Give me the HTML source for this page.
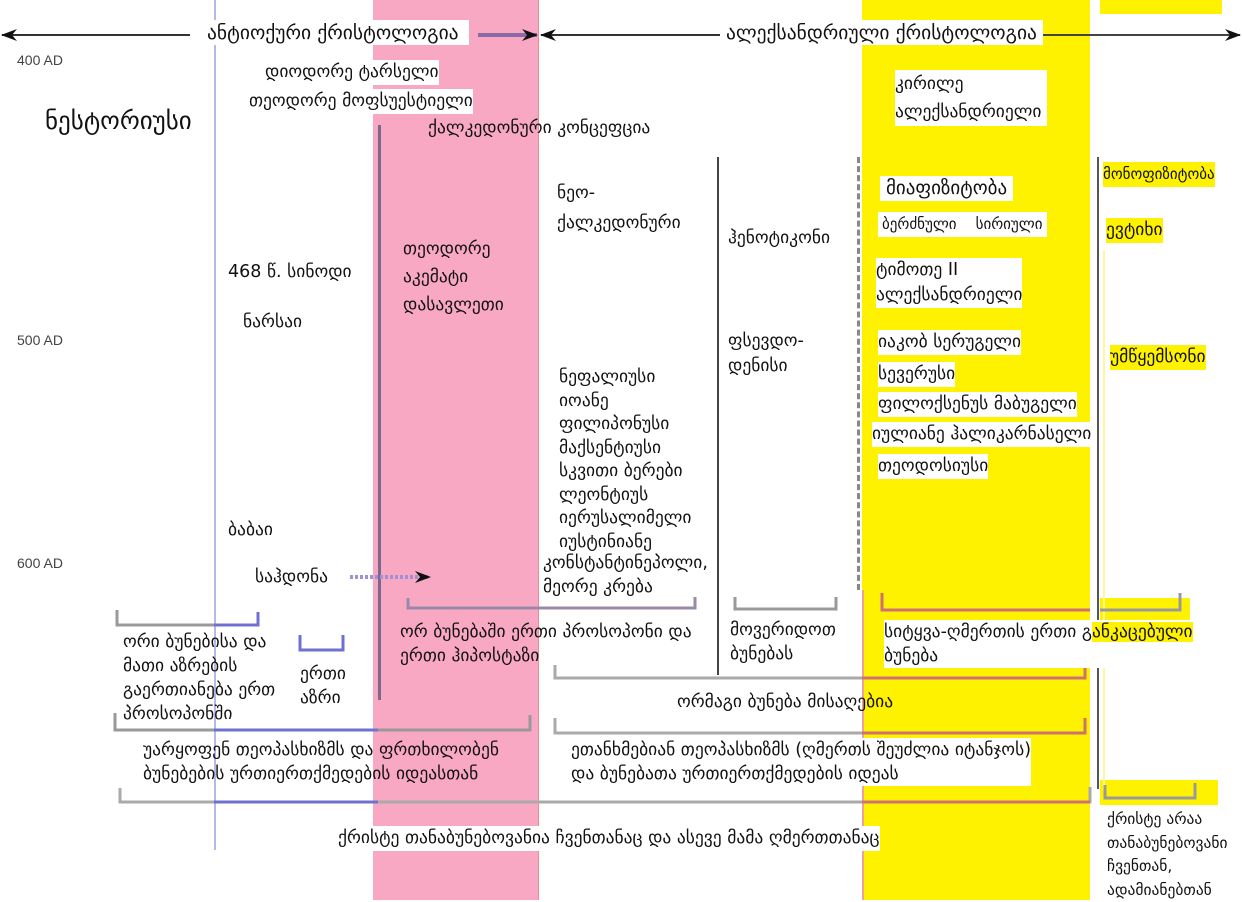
<!DOCTYPE html>
<html><head><meta charset="utf-8"><style>
body{margin:0;width:1242px;height:900px;position:relative;background:#fff;overflow:hidden;font-family:"DejaVu Sans","Liberation Sans",sans-serif;font-size:17.5px;color:#111}
.a{position:absolute}
.t{position:absolute;white-space:nowrap;line-height:25px}
.w{background:#fff}
.y{background:#fff200}
.ax{font-family:"Liberation Sans",sans-serif;font-size:14px;color:#444}
</style></head><body>
<!-- bands -->
<div class="a" style="left:373px;top:0;width:165px;height:900px;background:#f9a8c4"></div>
<div class="a" style="left:862px;top:0;width:228px;height:900px;background:#fff200"></div>
<div class="a" style="left:1100px;top:0;width:122px;height:14px;background:#fff200"></div>
<div class="a" style="left:1100px;top:598px;width:90px;height:30px;background:#fff200"></div>
<div class="a" style="left:1100px;top:780px;width:118px;height:25px;background:#fff200"></div>
<!-- vertical lines -->
<div class="a" style="left:214px;top:0;width:2px;height:850px;background:#b8b8e8"></div>
<div class="a" style="left:538px;top:0;width:1px;height:900px;background:#e89090"></div>
<div class="a" style="left:862px;top:590px;width:2px;height:310px;background:#f0a0a0"></div>
<div class="a" style="left:378px;top:125px;width:3px;height:575px;background:#7a6a8a"></div>
<div class="a" style="left:717px;top:157px;width:2px;height:518px;background:#444"></div>
<div class="a" style="left:857px;top:157px;width:0;height:433px;border-left:3px dashed #888"></div>
<div class="a" style="left:1097px;top:157px;width:2px;height:632px;background:#555"></div>
<div class="a" style="left:1103px;top:250px;width:2px;height:540px;background:#fff6a0"></div>
<svg class="a" style="left:0;top:0" width="1242" height="900">
<defs><marker id="m" markerUnits="userSpaceOnUse" markerWidth="16" markerHeight="12" refX="15" refY="6" orient="auto"><path d="M0,0 L16,6 L0,12 L5,6z" fill="#111"/></marker></defs>
<line x1="190" y1="35" x2="2" y2="35" stroke="#333" stroke-width="2" marker-end="url(#m)"/>
<line x1="478" y1="35" x2="537" y2="35" stroke="#8a6aa8" stroke-width="4" marker-end="url(#m)"/>
<line x1="720" y1="35" x2="541" y2="35" stroke="#333" stroke-width="2" marker-end="url(#m)"/>
<line x1="1040" y1="35" x2="1240" y2="35" stroke="#444" stroke-width="2" marker-end="url(#m)"/>
<line x1="350" y1="577" x2="430" y2="577" stroke="#a090d8" stroke-width="4" stroke-dasharray="3,2" marker-end="url(#m)"/>
<g fill="none" stroke-width="3">
<path d="M117 610 V625 H258 V612" stroke="#999"/>
<path d="M214 625 H258 V612" stroke="#7070d0"/>
<path d="M300 635 V650 H343 V635" stroke="#7070d0"/>
<path d="M408 598 V608 H695 V597" stroke="#9a8aaa"/>
<path d="M735 597 V609 H836 V597" stroke="#999"/>
<path d="M882 593 V610 H1090" stroke="#d07070"/>
<path d="M1100 610 H1180 V593" stroke="#999"/>
<path d="M555 665 V678 H1085 V662" stroke="#aaa"/>
<path d="M862 678 H1085 V662" stroke="#d07070"/>
<path d="M555 718 V733 H1085 V718" stroke="#aaa"/>
<path d="M862 733 H1085 V718" stroke="#d07070"/>
<path d="M115 713 V730 H530 V715" stroke="#999"/>
<path d="M214 730 H378" stroke="#7070d0"/>
<path d="M120 788 V802 H1090 V787" stroke="#aaa"/>
<path d="M214 802 H378" stroke="#7070d0"/>
<path d="M862 802 H1090" stroke="#d07070"/>
<path d="M1105 785 V798 H1195 V783" stroke="#999"/>
</g>
</svg>
<!-- axis -->
<div class="t ax" style="left:17px;top:48px">400 AD</div>
<div class="t ax" style="left:17px;top:328px">500 AD</div>
<div class="t ax" style="left:17px;top:551px">600 AD</div>
<!-- headings -->
<div class="t w" style="left:207px;top:20px;font-size:19.5px;padding-right:10px">ანტიოქური ქრისტოლოგია</div>
<div class="t w" style="left:726px;top:20px;font-size:19.5px;padding-right:6px">ალექსანდრიული ქრისტოლოგია</div>
<div class="t" style="left:45px;top:106px;font-size:25px;line-height:30px">ნესტორიუსი</div>
<div class="t w" style="left:265px;top:60px">დიოდორე ტარსელი</div>
<div class="t w" style="left:249px;top:89px">თეოდორე მოფსუესტიელი</div>
<div class="t" style="left:428px;top:116px">ქალკედონური კონცეფცია</div>
<div class="t" style="left:228px;top:260px">468 წ. სინოდი</div>
<div class="t" style="left:243px;top:310px">ნარსაი</div>
<div class="t" style="left:403px;top:235px;line-height:28px">თეოდორე<br>აკემატი<br>დასავლეთი</div>
<div class="t" style="left:557px;top:178px;line-height:30px">ნეო-<br>ქალკედონური</div>
<div class="t" style="left:728px;top:226px">ჰენოტიკონი</div>
<div class="t" style="left:728px;top:329px;line-height:25px">ფსევდო-<br>დენისი</div>
<div class="t" style="left:559px;top:366px;line-height:23.5px">ნეფალიუსი<br>იოანე<br>ფილიპონუსი<br>მაქსენტიუსი<br>სკვითი ბერები<br>ლეონტიუს<br>იერუსალიმელი<br>იუსტინიანე</div>
<div class="t" style="left:543px;top:551px;line-height:24px">კონსტანტინეპოლი,<br>მეორე კრება</div>
<div class="t" style="left:228px;top:518px">ბაბაი</div>
<div class="t" style="left:255px;top:565px">საჰდონა</div>
<!-- yellow region -->
<div class="t w" style="left:895px;top:70px;line-height:28px;padding-right:6px">კირილე<br>ალექსანდრიელი</div>
<div class="t w" style="left:880px;top:176px;font-size:19px;padding:0 6px">მიაფიზიტობა</div>
<div class="t w" style="left:878px;top:212px;font-size:15px;padding:0 4px">ბერძნული &nbsp;&nbsp; სირიული</div>
<div class="t w" style="left:876px;top:258px;line-height:25px">ტიმოთე II<br>ალექსანდრიელი</div>
<div class="t w" style="left:878px;top:330px">იაკობ სერუგელი</div>
<div class="t w" style="left:878px;top:362px">სევერუსი</div>
<div class="t w" style="left:878px;top:392px">ფილოქსენუს მაბუგელი</div>
<div class="t w" style="left:872px;top:422px">იულიანე ჰალიკარნასელი</div>
<div class="t w" style="left:878px;top:454px">თეოდოსიუსი</div>
<div class="t y" style="left:1103px;top:162px;font-size:15px">მონოფიზიტობა</div>
<div class="t y" style="left:1106px;top:218px">ევტიხი</div>
<div class="t y" style="left:1110px;top:345px">უმწყემსონი</div>
<!-- bottom -->
<div class="t" style="left:123px;top:630px;line-height:24px">ორი ბუნებისა და<br>მათი აზრების<br>გაერთიანება ერთ<br>პროსოპონში</div>
<div class="t" style="left:300px;top:662px;line-height:24px">ერთი<br>აზრი</div>
<div class="t" style="left:400px;top:620px;line-height:24px">ორ ბუნებაში ერთი პროსოპონი და<br>ერთი ჰიპოსტაზი</div>
<div class="t" style="left:730px;top:618px;line-height:24px">მოვერიდოთ<br>ბუნებას</div>
<div class="t w" style="left:884px;top:620px;line-height:24px">სიტყვა-ღმერთის ერთი გ<span class="y">ანკაცებული</span><br>ბუნება</div>
<div class="t" style="left:677px;top:690px">ორმაგი ბუნება მისაღებია</div>
<div class="t" style="left:143px;top:738px;line-height:24px">უარყოფენ თეოპასხიზმს და ფრთხილობენ<br>ბუნებების ურთიერთქმედების იდეასთან</div>
<div class="t w" style="left:571px;top:738px;line-height:24px">ეთანხმებიან თეოპასხიზმს (ღმერთს შეუძლია იტანჯოს)<br>და ბუნებათა ურთიერთქმედების იდეას</div>
<div class="t w" style="left:338px;top:826px">ქრისტე თანაბუნებოვანია ჩვენთანაც და ასევე მამა ღმერთთანაც</div>
<div class="t" style="left:1107px;top:808px;line-height:23.5px;font-size:15.5px">ქრისტე არაა<br>თანაბუნებოვანი<br>ჩვენთან,<br>ადამიანებთან</div>
</body></html>
